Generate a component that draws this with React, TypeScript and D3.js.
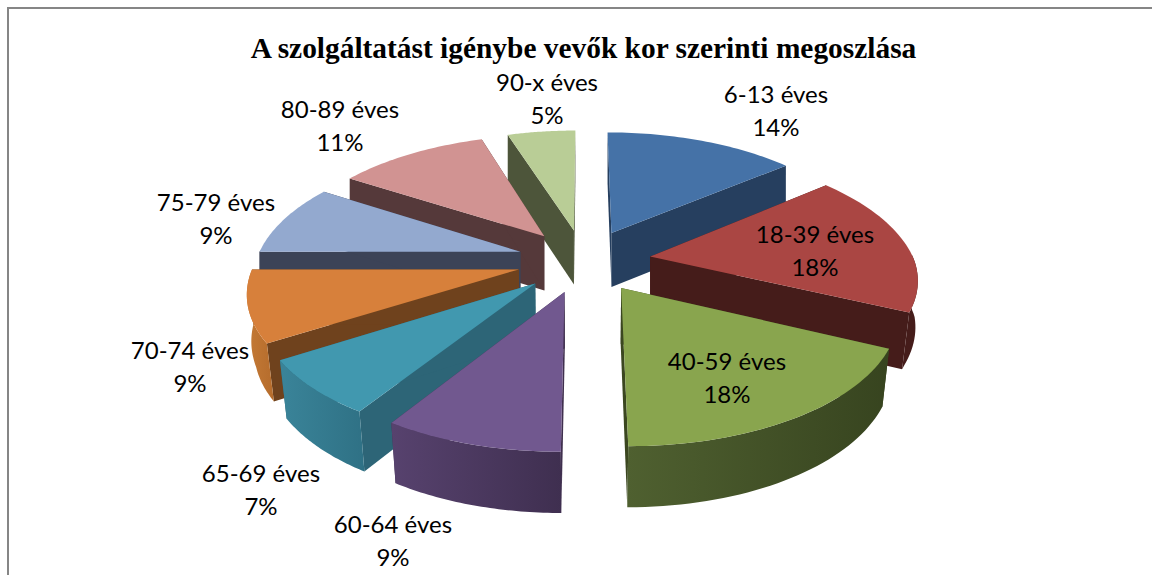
import React from 'react';
import * as d3 from 'd3';

const width = 1152;
const height = 575;

// data
const ageGroups = ['6-13 éves', '18-39 éves', '40-59 éves', '60-64 éves', '65-69 éves', '70-74 éves', '75-79 éves', '80-89 éves', '90-x éves'];
const shares = [14, 18, 18, 9, 7, 9, 9, 11, 5];

const topColors = ['#4572a7', '#aa4643', '#89a54e', '#71588f', '#4198af', '#d7803b', '#93a9cf', '#d19392', '#b9cd96'];
const cutColors = ['#263f5f', '#451c1a', '#3b4720', '#40304f', '#2d6577', '#6f421d', '#3c4357', '#55393a', '#4d553a'];
const wallLeft = ['#263f5f', '#451c1a', '#4f6030', '#57426e', '#3a8499', '#c47a36', '#3c4357', '#55393a', '#4d553a'];
const wallRight = ['#263f5f', '#451c1a', '#37441f', '#3f2f50', '#2f7185', '#b56c2c', '#3c4357', '#55393a', '#4d553a'];

// label centres, hand placed like in the original
const labelX = [776, 815, 727, 393, 261, 190, 216, 340, 547];
const labelY = [95, 235, 362, 525, 474, 351, 203, 110, 83];

// 3d pie geometry
const cx = 584;
const cy = 260.5;
const radius = 264;
const explode = 67;
const tilt = 0.47;
const camera = 1700;
const depth = 55;
const baseShrink = 0.022;

type Pt = [number, number];

function project(u: number, v: number): { top: Pt; base: Pt } {
  const s = 1 / (1 - v / camera);
  // the back of the pie narrows a bit faster than plain perspective
  const sx = v < 0 ? Math.pow(s, 1.1) : s;
  const x = cx + u * sx;
  const y = cy + tilt * v * s;
  // the bottom edge pulls in towards the middle only on the near side
  const shrink = 1 - baseShrink * Math.min(1, Math.max(0, v) / 100);
  return {
    top: [x, y],
    base: [cx + (x - cx) * shrink, y + depth * Math.sqrt(s)],
  };
}

const line = d3.line().curve(d3.curveLinear);
const closed = (pts: Pt[]) => line(pts) + 'Z';

const pie = d3.pie<number>().sort(null).value(d => d);

function buildSlices() {
  return pie(shares).map((arc, i) => {
    const mid = (arc.startAngle + arc.endAngle) / 2;
    const ex = explode * Math.sin(mid);
    const ey = -explode * Math.cos(mid);
    const at = (r: number, a: number) => project(ex + r * Math.sin(a), ey - r * Math.cos(a));
    const apex = at(0, 0);
    const angles = d3.range(0, 41).map(t => arc.startAngle + (arc.endAngle - arc.startAngle) * t / 40);
    const rim = angles.map(a => at(radius, a));
    // only the part of the rim that faces the viewer gets an outer wall
    const frontRim = angles.filter(a => Math.cos(a) < 0.02).map(a => at(radius, a));
    const first = rim[0];
    const last = rim[rim.length - 1];
    return {
      i,
      order: Math.cos(mid),
      top: closed([apex.top, ...rim.map(p => p.top)]),
      wall: frontRim.length > 1 ? closed([...frontRim.map(p => p.top), ...frontRim.map(p => p.base).reverse()]) : null,
      cutA: closed([apex.top, first.top, first.base, apex.base]),
      cutB: closed([apex.top, last.top, last.base, apex.base]),
    };
  }).sort((a, b) => d3.descending(a.order, b.order));
}

export default function App() {
  const slices = buildSlices();
  return (
    <svg width={width} height={height} style={{ position: 'absolute', left: 0, top: 0, background: '#fff' }}>
      <defs>
        {ageGroups.map((_, i) => (
          <linearGradient key={i} id={`wall${i}`} x1="0" x2="1" y1="0" y2="0">
            <stop offset="0" stopColor={wallLeft[i]} />
            <stop offset="1" stopColor={wallRight[i]} />
          </linearGradient>
        ))}
      </defs>
      <path d={`M8,${height}V8H${width}`} fill="none" stroke="#868686" strokeWidth={2} />
      <text x={583.5} y={58} textAnchor="middle" fontFamily="'Liberation Serif'" fontWeight="bold" fontSize={29.4} fill="#000">
        A szolgáltatást igénybe vevők kor szerinti megoszlása
      </text>
      {slices.map(s => (
        <g key={s.i}>
          <path d={s.cutA} fill={cutColors[s.i]} />
          <path d={s.cutB} fill={cutColors[s.i]} />
          {s.wall && <path d={s.wall} fill={`url(#wall${s.i})`} />}
          <path d={s.top} fill={topColors[s.i]} />
        </g>
      ))}
      <g fontFamily="Lato" fontSize={24} textAnchor="middle" fill="#000">
        {ageGroups.map((name, i) => (
          <text key={name}>
            <tspan x={labelX[i]} y={labelY[i] + 8}>{name}</tspan>
            <tspan x={labelX[i]} y={labelY[i] + 41}>{shares[i]}%</tspan>
          </text>
        ))}
      </g>
    </svg>
  );
}
